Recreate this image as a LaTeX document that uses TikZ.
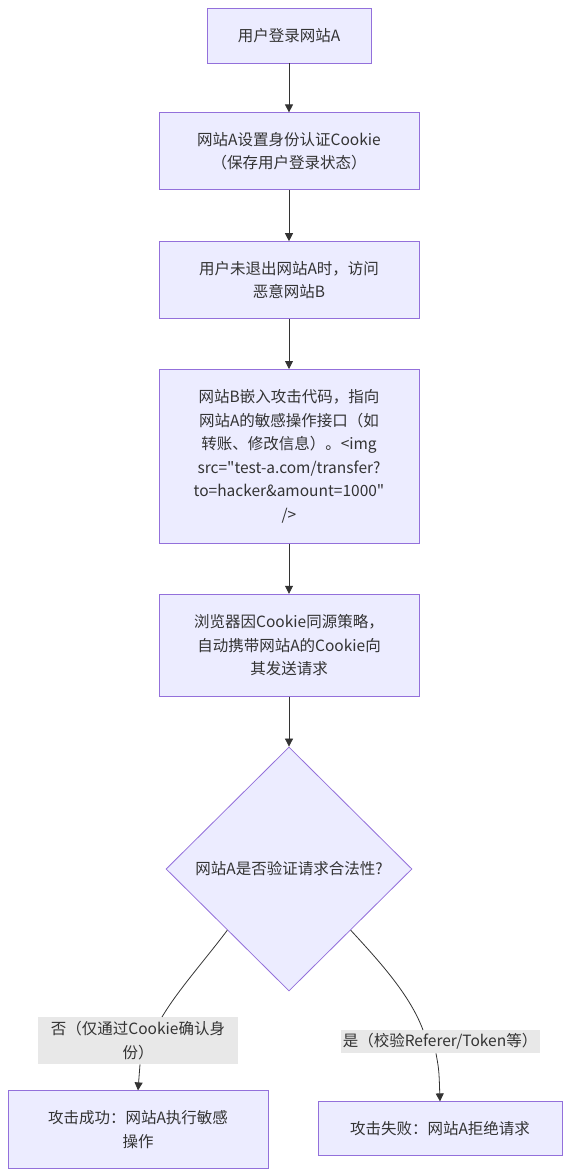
\documentclass[tikz,border=0pt]{standalone}
\usepackage{fontspec}
\setmainfont{Noto Sans CJK SC}[Ligatures=TeXOff]
\usetikzlibrary{arrows.meta,positioning,shapes.geometric}
\definecolor{boxfill}{HTML}{ECECFF}
\definecolor{boxline}{HTML}{9370DB}
\definecolor{txt}{HTML}{333333}
\definecolor{lblgray}{HTML}{E8E8E8}

\begin{document}
\begin{tikzpicture}[
  x=1pt, y=-1pt,
  node distance=50pt,
  box/.style={draw=boxline, fill=boxfill, line width=0.8pt, align=center, minimum width=260pt, text=txt, font={\fontsize{15.5}{23.5}\selectfont}},
  decide/.style={diamond, draw=boxline, fill=boxfill, line width=0.8pt, align=center, minimum width=246pt, minimum height=244pt, inner sep=0pt, text=txt, font={\fontsize{15.5}{23.5}\selectfont}},
  lbl/.style={fill=lblgray, align=center, text=txt, inner sep=2pt, font={\fontsize{15.5}{23.5}\selectfont}},
  arr/.style={-{Triangle[length=8pt,width=8pt]}, line width=0.8pt, draw=txt},
  line/.style={line width=0.8pt, draw=txt}
]
\useasboundingbox (0,0) rectangle (571,1173);

\node[box, minimum width=164pt, minimum height=55pt] (login) at (289,35.5) {用户登录网站A};
\node[box, minimum height=77pt, below=49pt of login] (cookie) {网站A设置身份认证Cookie\\（保存用户登录状态）};
\node[box, minimum height=77pt, below=51pt of cookie] (visit) {用户未退出网站A时，访问\\恶意网站B};
\node[box, minimum height=174pt, below=50pt of visit] (embed) {网站B嵌入攻击代码，指向\\网站A的敏感操作接口（如\\转账、修改信息）。<img\\src="test-a.com/transfer?\\to=hacker\&amount=1000"\\/>};
\node[box, minimum height=102pt, below=50pt of embed] (send) {浏览器因Cookie同源策略，\\自动携带网站A的Cookie向\\其发送请求};
\node[decide, below=50pt of send] (check) {网站A是否验证请求合法性?};

\node[box, minimum height=78pt, below=99pt of check, xshift=-151pt] (success) {攻击成功：网站A执行敏感\\操作};
\node[box, minimum width=244pt, minimum height=54pt, below=110pt of check, xshift=151pt] (fail) {攻击失败：网站A拒绝请求};

\node[lbl, minimum width=200pt, minimum height=47pt, above=26pt of success] (no) {否（仅通过Cookie确认身\\份）};
\node[lbl, minimum width=199pt, minimum height=23pt, above=48pt of fail] (yes) {是（校验Referer/Token等）};

% main chain
\draw[arr] (login) -- (cookie);
\draw[arr] (cookie) -- (visit);
\draw[arr] (visit) -- (embed);
\draw[arr] (embed) -- (send);
\draw[arr] (send) -- (check);

% branches
\draw[line] (check.south west) .. controls (205,960) and (178,990) .. ([xshift=24pt]no.north);
\draw[arr] ([xshift=2pt]no.south) -- (success.north);
\draw[line] (check.south east) .. controls (380,962) and (410,995) .. ([xshift=-17pt]yes.north);
\draw[arr] ([xshift=-4pt]yes.south) .. controls (439,1070) .. (fail.north);

\end{tikzpicture}
\end{document}
